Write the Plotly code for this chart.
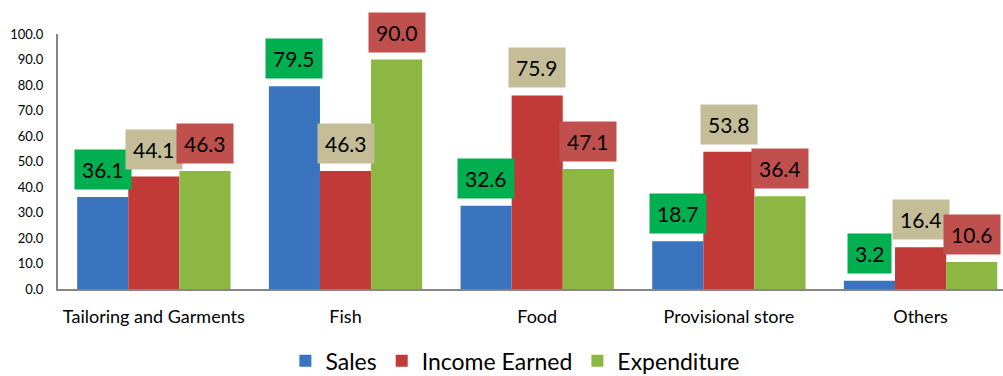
import plotly.graph_objects as go

categories = ["Tailoring and Garments", "Fish", "Food", "Provisional store", "Others"]
sales = [36.1, 79.5, 32.6, 18.7, 3.2]
income_earned = [44.1, 46.3, 75.9, 53.8, 16.4]
expenditure = [46.3, 90.0, 47.1, 36.4, 10.6]
y_ticks = [0, 10, 20, 30, 40, 50, 60, 70, 80, 90, 100]

series = [
    ("Sales", sales, "#3A74BF", "#00B050"),
    ("Income Earned", income_earned, "#C23A37", "#C4BD97"),
    ("Expenditure", expenditure, "#8DB743", "#C0504D"),
]

W, H = 1003, 376
margin = dict(l=58, r=0, t=34, b=87, autoexpand=False)
x_range = [-0.5, 4.43]
bargap = 0.2
FONT = "Lato, Carlito, Calibri, sans-serif"

fig = go.Figure()
for name, vals, color, _ in series:
    fig.add_trace(go.Bar(
        name=name, x=categories, y=vals,
        marker=dict(color=color, line=dict(width=0)),
    ))

# Value labels in coloured boxes sitting just above each bar
plot_w = W - margin["l"] - margin["r"]
px_per_cat = plot_w / (x_range[1] - x_range[0])
bar_px = px_per_cat * (1 - bargap) / len(series)
for k, (name, vals, _, box) in enumerate(series):
    for cat, v in zip(categories, vals):
        fig.add_annotation(
            x=cat, y=v, xref="x", yref="y",
            text=f"{v:.1f}", showarrow=False,
            xanchor="center", yanchor="bottom",
            xshift=(k - 1) * bar_px, yshift=7,
            bgcolor=box, borderpad=7,
            font=dict(family=FONT, size=21, color="#000000"),
        )

fig.update_layout(
    width=W, height=H, margin=margin,
    paper_bgcolor="white", plot_bgcolor="white",
    barmode="group", bargap=bargap, bargroupgap=0,
    font=dict(family=FONT, color="#000000"),
    showlegend=True,
    legend=dict(
        orientation="h", x=0.484, xanchor="center",
        y=-0.282, yanchor="middle",
        font=dict(family=FONT, size=23, color="#000000"),
        itemsizing="constant", traceorder="normal",
    ),
    xaxis=dict(
        type="category", range=x_range,
        showline=True, linecolor="#868686", linewidth=2,
        showgrid=False, ticks="", ticklabelstandoff=10,
        tickfont=dict(family=FONT, size=18, color="#000000"),
        fixedrange=True,
    ),
    yaxis=dict(
        range=[0, 100], tickvals=y_ticks,
        ticktext=[f"{t:.1f}" for t in y_ticks],
        showline=True, linecolor="#868686", linewidth=2,
        showgrid=False, zeroline=False, ticks="", ticklabelstandoff=10,
        tickfont=dict(family=FONT, size=13, color="#000000"),
        fixedrange=True,
    ),
)

fig.write_html("out.html")
